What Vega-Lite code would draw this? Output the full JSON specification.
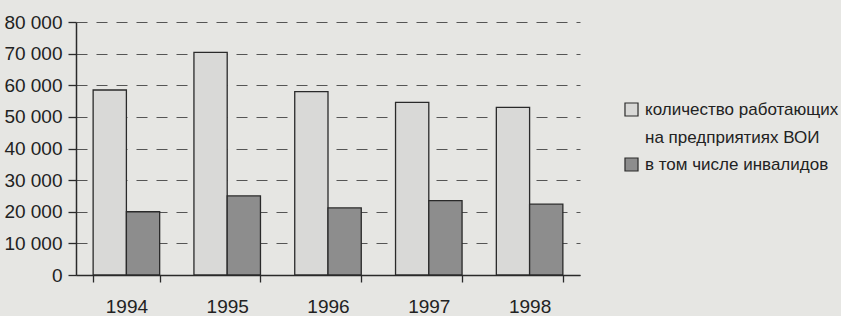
{
  "$schema": "https://vega.github.io/schema/vega-lite/v6.json",
  "autosize": "none",
  "width": 504,
  "height": 253,
  "padding": {"left": 76, "top": 22, "right": 261, "bottom": 41},
  "background": "#e6e6e3",
  "data": {
    "values": [
      {"year": "1994", "series": "количество работающих|на предприятиях ВОИ", "value": 58500},
      {"year": "1994", "series": "в том числе инвалидов", "value": 20000},
      {"year": "1995", "series": "количество работающих|на предприятиях ВОИ", "value": 70400},
      {"year": "1995", "series": "в том числе инвалидов", "value": 25000},
      {"year": "1996", "series": "количество работающих|на предприятиях ВОИ", "value": 58000},
      {"year": "1996", "series": "в том числе инвалидов", "value": 21200},
      {"year": "1997", "series": "количество работающих|на предприятиях ВОИ", "value": 54600},
      {"year": "1997", "series": "в том числе инвалидов", "value": 23500},
      {"year": "1998", "series": "количество работающих|на предприятиях ВОИ", "value": 53000},
      {"year": "1998", "series": "в том числе инвалидов", "value": 22400}
    ]
  },
  "mark": {"type": "bar", "stroke": "#2a2a2a", "strokeWidth": 1.3},
  "encoding": {
    "x": {
      "field": "year",
      "type": "nominal",
      "scale": {"paddingInner": 0.34, "paddingOuter": 0.17},
      "axis": {
        "title": null,
        "labelAngle": 0,
        "tickBand": "extent",
        "tickSize": 7,
        "labelPadding": 15,
        "labelBaseline": "top",
        "grid": false
      }
    },
    "xOffset": {
      "field": "series",
      "type": "nominal",
      "sort": ["количество работающих|на предприятиях ВОИ", "в том числе инвалидов"]
    },
    "y": {
      "field": "value",
      "type": "quantitative",
      "scale": {"domain": [0, 80000]},
      "axis": {
        "title": null,
        "values": [0, 10000, 20000, 30000, 40000, 50000, 60000, 70000, 80000],
        "labelExpr": "replace(format(datum.value, ','), ',', ' ')",
        "tickSize": 8,
        "labelPadding": 6,
        "grid": true,
        "gridDash": [11, 9],
        "gridColor": "#555555",
        "gridWidth": 1.2
      }
    },
    "fill": {
      "field": "series",
      "type": "nominal",
      "sort": ["количество работающих|на предприятиях ВОИ", "в том числе инвалидов"],
      "scale": {"range": ["#d9d9d7", "#8d8d8d"]},
      "legend": {
        "title": null,
        "orient": "none",
        "legendX": 547,
        "legendY": 79,
        "symbolType": "square",
        "symbolSize": 170,
        "symbolStrokeColor": "#2a2a2a",
        "symbolStrokeWidth": 1.2,
        "labelExpr": "split(datum.label, '|')",
        "rowPadding": 9,
        "labelOffset": 5
      }
    }
  },
  "config": {
    "font": "Liberation Sans",
    "view": {"stroke": null},
    "style": {"guide-label": {"lineHeight": 28}},
    "axis": {
      "domainColor": "#2a2a2a",
      "domainWidth": 1.5,
      "tickColor": "#2a2a2a",
      "tickWidth": 1.3,
      "labelColor": "#222222",
      "labelFontSize": 19,
      "labelFont": "Liberation Sans"
    },
    "legend": {
      "labelFontSize": 17,
      "labelColor": "#222222",
      "labelFont": "Liberation Sans",
      "labelLimit": 300
    }
  }
}
